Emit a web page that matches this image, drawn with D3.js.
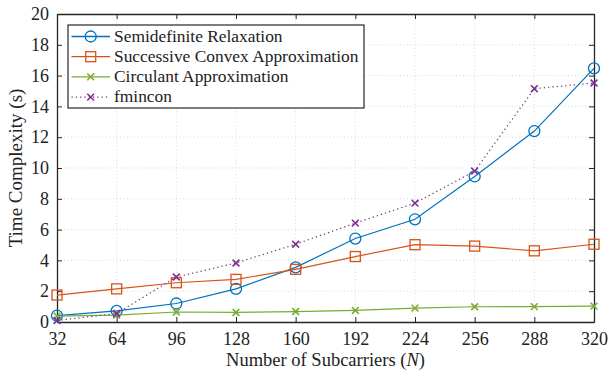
<!DOCTYPE html>
<html>
<head>
<meta charset="utf-8">
<script src="https://d3js.org/d3.v7.min.js"></script>
<style>
  body { margin: 0; background: #fff; }
</style>
</head>
<body>
<div id="chart"></div>
<script>
// data
var subcarriers = [32, 64, 96, 128, 160, 192, 224, 256, 288, 320];
var sdr      = [0.42, 0.72, 1.2, 2.15, 3.55, 5.42, 6.67, 9.45, 12.4, 16.47];
var sca      = [1.75, 2.15, 2.55, 2.77, 3.42, 4.25, 5.02, 4.93, 4.62, 5.05];
var circ     = [0.38, 0.45, 0.65, 0.62, 0.68, 0.75, 0.9, 0.99, 1.0, 1.03];
var fmincon  = [0.1, 0.55, 2.92, 3.83, 5.05, 6.42, 7.72, 9.8, 15.15, 15.52];
var yTicks = [0, 2, 4, 6, 8, 10, 12, 14, 16, 18, 20];
var seriesNames = ["Semidefinite Relaxation", "Successive Convex Approximation", "Circulant Approximation", "fmincon"];

var width = 610, height = 372;
var margin = {left: 57, right: 16, top: 14, bottom: 50};
var serif = "'Liberation Serif', 'Times New Roman', serif";

var svg = d3.select("#chart").append("svg")
    .attr("width", width)
    .attr("height", height)
    .attr("font-family", serif);

var x = d3.scaleLinear().domain([32, 320]).range([margin.left, width - margin.right]);
var y = d3.scaleLinear().domain([0, 20]).range([height - margin.bottom, margin.top]);

// grid
var grid = svg.append("g").attr("stroke", "#d9d9d9").attr("stroke-dasharray", "1,2.5").attr("stroke-width", 1);
grid.selectAll(".gx").data(subcarriers.slice(1, -1)).enter().append("line")
    .attr("x1", d => x(d)).attr("x2", d => x(d))
    .attr("y1", y(0)).attr("y2", y(20));
grid.selectAll(".gy").data(yTicks.slice(1, -1)).enter().append("line")
    .attr("y1", d => y(d)).attr("y2", d => y(d))
    .attr("x1", x(32)).attr("x2", x(320));

// axes, matlab style with inward ticks on all sides
var xAxis = svg.append("g").attr("transform", "translate(0," + y(0) + ")")
    .call(d3.axisBottom(x).tickValues(subcarriers).tickSizeInner(-5).tickSizeOuter(0).tickPadding(10));
var xTop = svg.append("g").attr("transform", "translate(0," + y(20) + ")")
    .call(d3.axisTop(x).tickValues(subcarriers).tickSizeInner(-5).tickSizeOuter(0).tickFormat(""));
var yAxis = svg.append("g").attr("transform", "translate(" + x(32) + ",0)")
    .call(d3.axisLeft(y).tickValues(yTicks).tickSizeInner(-5).tickSizeOuter(0).tickPadding(8));
var yRight = svg.append("g").attr("transform", "translate(" + x(320) + ",0)")
    .call(d3.axisRight(y).tickValues(yTicks).tickSizeInner(-5).tickSizeOuter(0).tickFormat(""));
[xAxis, xTop, yAxis, yRight].forEach(function(a) {
    a.attr("font-family", serif).attr("font-size", 18);
    a.select(".domain").attr("stroke", "#262626").attr("stroke-width", 1.3);
    a.selectAll(".tick line").attr("stroke", "#262626");
    a.selectAll("text").attr("fill", "#222");
});

// series
var colors = ["#0072BD", "#D95319", "#77AC30", "#7E2F8E"];
var allData = [sdr, sca, circ, fmincon];
var markers = ["circle", "square", "x", "x"];

var line = d3.line().x((d, i) => x(subcarriers[i])).y(d => y(d));

function drawMarker(g, type, cx, cy, color) {
    if (type == "circle") {
        g.append("circle").attr("cx", cx).attr("cy", cy).attr("r", 5.5)
            .attr("fill", "none").attr("stroke", color).attr("stroke-width", 1.3);
    } else if (type == "square") {
        g.append("rect").attr("x", cx - 5).attr("y", cy - 5).attr("width", 10).attr("height", 10)
            .attr("fill", "none").attr("stroke", color).attr("stroke-width", 1.3);
    } else {
        var s = 3.4;
        g.append("path").attr("d", "M" + (cx - s) + "," + (cy - s) + "L" + (cx + s) + "," + (cy + s) +
                "M" + (cx - s) + "," + (cy + s) + "L" + (cx + s) + "," + (cy - s))
            .attr("stroke", color).attr("stroke-width", 1.6);
    }
}

allData.forEach(function(vals, k) {
    var g = svg.append("g");
    g.append("path").datum(vals).attr("d", line)
        .attr("fill", "none").attr("stroke", colors[k]).attr("stroke-width", 1.2)
        .attr("stroke-dasharray", k == 3 ? "1.3,3" : null);
    vals.forEach(function(v, i) { drawMarker(g, markers[k], x(subcarriers[i]), y(v), colors[k]); });
});

// legend
var leg = svg.append("g").attr("transform", "translate(68,25)");
leg.append("rect").attr("width", 296).attr("height", 83)
    .attr("fill", "#fff").attr("stroke", "#262626").attr("stroke-width", 1.2);
seriesNames.forEach(function(name, k) {
    var ly = 11.5 + k * 20.2;
    leg.append("line").attr("x1", 3.5).attr("x2", 42).attr("y1", ly).attr("y2", ly)
        .attr("stroke", colors[k]).attr("stroke-width", 1.3)
        .attr("stroke-dasharray", k == 3 ? "1.3,3" : null);
    drawMarker(leg, markers[k], 22.7, ly, colors[k]);
    leg.append("text").attr("x", 46).attr("y", ly + 5)
        .attr("font-size", 17.4).attr("fill", "#222").text(name);
});

// axis titles
svg.append("text").attr("x", (x(32) + x(320)) / 2).attr("y", 366)
    .attr("text-anchor", "middle").attr("font-size", 18.5).attr("fill", "#222")
    .html('Number of Subcarriers (<tspan font-style="italic">N</tspan>)');
svg.append("text").attr("transform", "translate(22," + (y(10)) + ") rotate(-90)")
    .attr("text-anchor", "middle").attr("font-size", 19).attr("fill", "#222")
    .text("Time Complexity (s)");
</script>
</body>
</html>
